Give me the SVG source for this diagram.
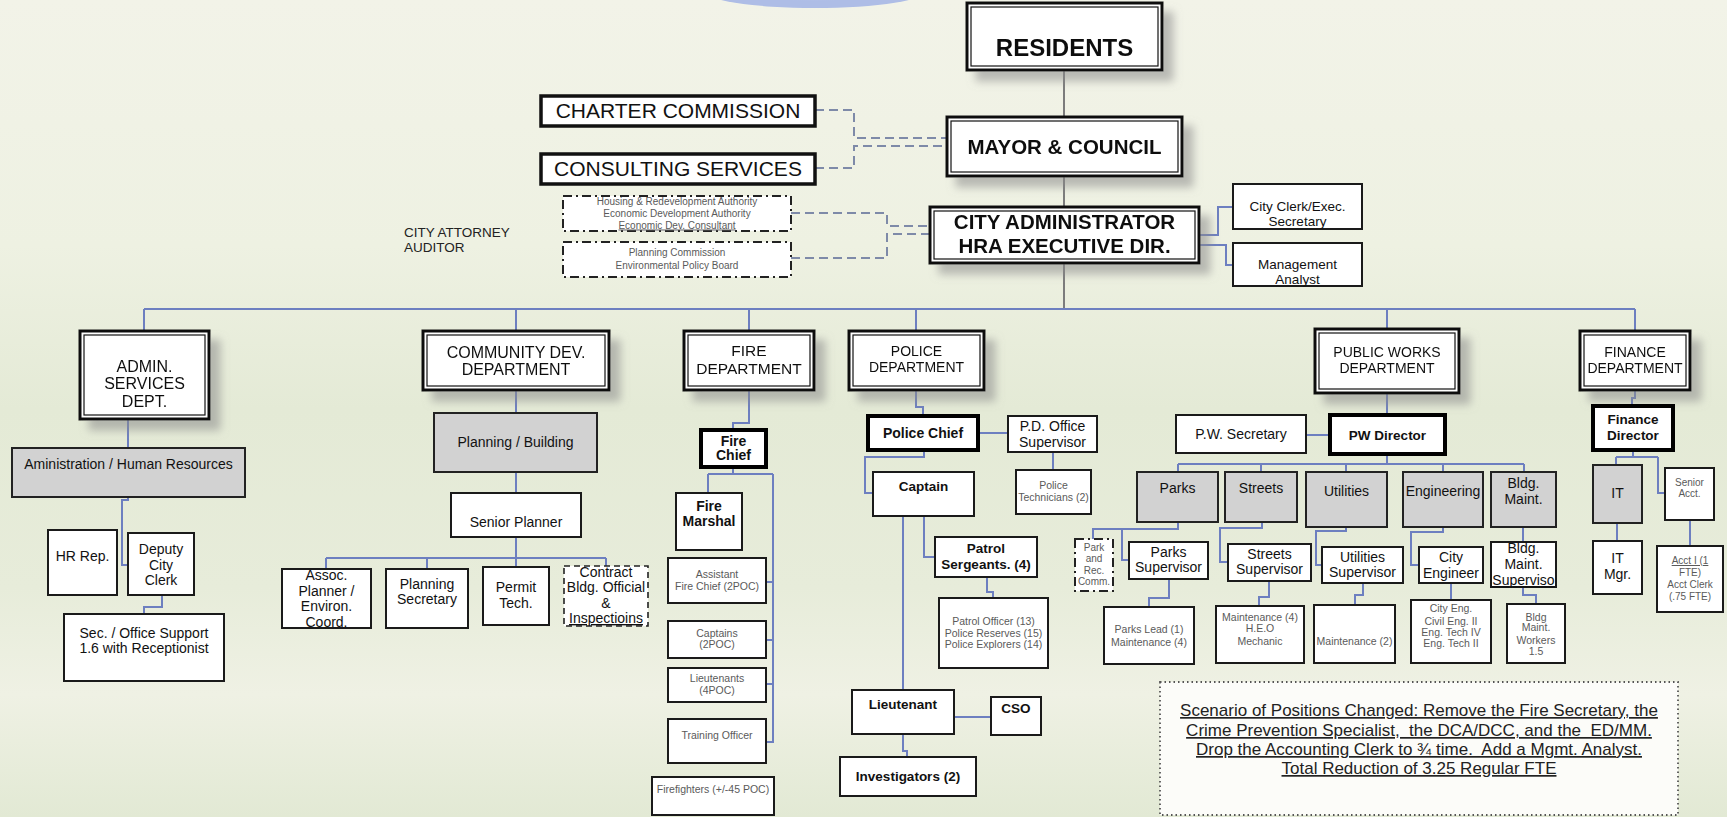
<svg xmlns="http://www.w3.org/2000/svg" width="1727" height="817" viewBox="0 0 1727 817">
<defs>
<linearGradient id="bg" x1="0" y1="0" x2="0" y2="1">
<stop offset="0" stop-color="#f2f3e8"/>
<stop offset="0.3" stop-color="#eef1e2"/>
<stop offset="0.5" stop-color="#e4ead6"/>
<stop offset="0.72" stop-color="#e7ecda"/>
<stop offset="0.85" stop-color="#eff1e4"/>
<stop offset="1" stop-color="#e2e9d4"/>
</linearGradient>
<radialGradient id="ell" cx="0.5" cy="0.2" r="0.6">
<stop offset="0" stop-color="#ffffff"/>
<stop offset="1" stop-color="#aebde6"/>
</radialGradient>
<filter id="sh" x="-20%" y="-20%" width="150%" height="170%">
<feDropShadow dx="10" dy="10" stdDeviation="4" flood-color="#8a8a8a" flood-opacity="0.55"/>
</filter>
</defs>
<style>
text{font-family:"Liberation Sans",Arial,Helvetica,sans-serif;text-anchor:middle;fill:#111}
.do{fill:#fff;stroke:#111;stroke-width:3}
.di{fill:none;stroke:#111;stroke-width:1.2}
.bx{fill:#fff;stroke:#1a1a1a;stroke-width:2}
.gy{fill:#d2d2d2;stroke:#222;stroke-width:2}
.bd{fill:#fff;stroke:#000;stroke-width:4}
.th{fill:#fff;stroke:#111;stroke-width:3.5}
.dd{fill:#fff;stroke:#222;stroke-width:2;stroke-dasharray:9 4 2 4}
.ds{fill:#fff;stroke:#222;stroke-width:1.6;stroke-dasharray:6 4}
.dt{fill:#fcfcf9;stroke:#555;stroke-width:1.8;stroke-dasharray:1.5 3}
.ln{fill:none;stroke:#6d7fc0;stroke-width:2}
.lg{fill:none;stroke:#7c7c7c;stroke-width:2}
.dl{fill:none;stroke:#7e8aa8;stroke-width:2;stroke-dasharray:9 5}
.f24{font-size:24px;font-weight:bold}
.f21b{font-size:20.5px;font-weight:bold}
.f21{font-size:21px}
.f16{font-size:16px}
.f155{font-size:15.5px}
.f14{font-size:14px}
.f14b{font-size:14px;font-weight:bold}
.f135{font-size:13.5px}
.f135b{font-size:13.5px;font-weight:bold}
.sm{font-size:10.5px;fill:#5a5a5a}
.xs{font-size:10px;fill:#5a5a5a}
.u{text-decoration:underline}
.note{font-size:17px;fill:#222;text-decoration:underline;white-space:pre}
.lbl{font-size:13.5px;text-anchor:start;fill:#222}
</style>
<rect x="0" y="0" width="1727" height="817" fill="url(#bg)"/>
<ellipse cx="815" cy="-10" rx="113" ry="18" fill="url(#ell)"/>

<g id="connectors">
<path class="lg" d="M1064 70V117M1064 176V207M1064 263V309"/>
<path class="dl" d="M815 110H854V138H947M815 168H854V146H947"/>
<path class="dl" d="M791 213H887V226H930M791 258H887V234H930"/>
<path class="ln" d="M1199 235H1218V207H1233M1199 245H1226V265H1233"/>
<path class="ln" d="M144 309H1635M144 309V331M516 309V331M749 309V331M916 309V331M1387 309V328M1635 309V331"/>
<path class="ln" d="M128 419V448M128 497V500H122V565H128M162 595V607H144V614"/>
<path class="ln" d="M516 390V413M516 472V493M516 537V558M326 558H606M326 558V569M427 558V569M516 558V567M606 558V566"/>
<path class="ln" d="M749 390V423H733V430M733 467V474M708 474H773M708 474V493M773 474V742H766M773 582H766M773 640H766M773 684H766"/>
<path class="ln" d="M916 390V407H923V416M978 433H1008M1053 452V470M924 450V457H865V493H873M924 516V557H935M987 577V592H993V598M903 516V690M954 717H991M903 734V751H907V757"/>
<path class="ln" d="M1387 393V415M1306 435H1330M1387 454V464M1178 464H1524M1178 464V472M1261 464V472M1346 464V472M1443 464V472M1524 464V472"/>
<path class="ln" d="M1178 522V529H1093V539M1122 529V560H1129M1169 579V598H1149V607"/>
<path class="ln" d="M1262 522V528H1220V562H1228M1269 581V597H1259V606"/>
<path class="ln" d="M1346 527V531H1316V565H1322M1363 583V595H1355V605"/>
<path class="ln" d="M1443 527V532H1411V565H1419M1451 583V600"/>
<path class="ln" d="M1523 527V542M1523 587V595H1536V604"/>
<path class="ln" d="M1635 390V398H1632V406M1633 450V457M1616 457H1658M1616 457V465M1658 457V493H1665M1617 523V541M1690 520V546"/>
</g>

<g id="residents" filter="url(#sh)"><rect class="do" x="967" y="3" width="195" height="67"/><rect class="di" x="971" y="7" width="187" height="59"/><text class="f24" x="1064.5" y="56">RESIDENTS</text></g>
<g id="mayor" filter="url(#sh)"><rect class="do" x="947" y="117" width="235" height="59"/><rect class="di" x="951" y="121" width="227" height="51"/><text class="f21b" x="1064.5" y="154">MAYOR &amp; COUNCIL</text></g>
<g id="cityadmin" filter="url(#sh)"><rect class="do" x="930" y="207" width="269" height="56"/><rect class="di" x="934" y="211" width="261" height="48"/><text class="f21b" x="1064.5" y="229">CITY ADMINISTRATOR</text><text class="f21b" x="1064.5" y="253">HRA EXECUTIVE DIR.</text></g>
<g id="charter"><rect class="th" x="541" y="96" width="274" height="30"/><text class="f21" x="678" y="118">CHARTER COMMISSION</text></g>
<g id="consulting"><rect class="th" x="541" y="154" width="274" height="30"/><text class="f21" x="678" y="176">CONSULTING SERVICES</text></g>
<g id="hra"><rect class="dd" x="563" y="196" width="228" height="35"/><text class="xs" x="677" y="204.5">Housing &amp; Redevelopment Authority</text><text class="xs" x="677" y="216.5">Economic Development Authority</text><text class="xs u" x="677" y="228.5">Economic Dev. Consultant</text></g>
<g id="planningcomm"><rect class="dd" x="563" y="242" width="228" height="35"/><text class="xs" x="677" y="256">Planning Commission</text><text class="xs" x="677" y="269">Environmental Policy Board</text></g>
<g id="attorney"><text class="lbl" x="404" y="237">CITY ATTORNEY</text><text class="lbl" x="404" y="252">AUDITOR</text></g>
<g id="cityclerk"><rect class="bx" x="1233" y="184" width="129" height="45"/><text class="f135" x="1297.5" y="211">City Clerk/Exec.</text><text class="f135" x="1297.5" y="226">Secretary</text></g>
<g id="mgmtanalyst"><rect class="bx" x="1233" y="243" width="129" height="43"/><text class="f135" x="1297.5" y="269">Management</text><text class="f135" x="1297.5" y="284">Analyst</text></g>

<g id="admin" filter="url(#sh)"><rect class="do" x="80" y="331" width="129" height="88"/><rect class="di" x="84" y="335" width="121" height="80"/><text class="f16" x="144.5" y="372">ADMIN.</text><text class="f16" x="144.5" y="389">SERVICES</text><text class="f16" x="144.5" y="407">DEPT.</text></g>
<g id="commdev" filter="url(#sh)"><rect class="do" x="423" y="331" width="186" height="59"/><rect class="di" x="427" y="335" width="178" height="51"/><text class="f16" x="516" y="358">COMMUNITY DEV.</text><text class="f16" x="516" y="375">DEPARTMENT</text></g>
<g id="fire" filter="url(#sh)"><rect class="do" x="684" y="331" width="130" height="59"/><rect class="di" x="688" y="335" width="122" height="51"/><text class="f155" x="749" y="356">FIRE</text><text class="f155" x="749" y="374">DEPARTMENT</text></g>
<g id="police" filter="url(#sh)"><rect class="do" x="849" y="331" width="135" height="59"/><rect class="di" x="853" y="335" width="127" height="51"/><text class="f14" x="916.5" y="356">POLICE</text><text class="f14" x="916.5" y="372">DEPARTMENT</text></g>
<g id="publicworks" filter="url(#sh)"><rect class="do" x="1315" y="329" width="144" height="64"/><rect class="di" x="1319" y="333" width="136" height="56"/><text class="f14" x="1387" y="357">PUBLIC WORKS</text><text class="f14" x="1387" y="373">DEPARTMENT</text></g>
<g id="finance" filter="url(#sh)"><rect class="do" x="1580" y="331" width="110" height="59"/><rect class="di" x="1584" y="335" width="102" height="51"/><text class="f14" x="1635" y="357">FINANCE</text><text class="f14" x="1635" y="373">DEPARTMENT</text></g>

<g id="adminhr"><rect class="gy" x="12" y="448" width="233" height="49"/><text class="f14" x="128.5" y="469">Aministration / Human Resources</text></g>
<g id="hrrep"><rect class="bx" x="48" y="530" width="69" height="65"/><text class="f14" x="82.5" y="561">HR Rep.</text></g>
<g id="deputy"><rect class="bx" x="128" y="533" width="66" height="62"/><text class="f14" x="161" y="554">Deputy</text><text class="f14" x="161" y="570">City</text><text class="f14" x="161" y="585">Clerk</text></g>
<g id="secoffice"><rect class="bx" x="64" y="614" width="160" height="67"/><text class="f14" x="144" y="638">Sec. / Office Support</text><text class="f14" x="144" y="653">1.6 with Receptionist</text></g>

<g id="planbldg"><rect class="gy" x="434" y="413" width="163" height="59"/><text class="f14" x="515.5" y="447">Planning / Building</text></g>
<g id="seniorplanner"><rect class="bx" x="451" y="493" width="130" height="44"/><text class="f14" x="516" y="527">Senior Planner</text></g>
<g id="assoc"><rect class="bx" x="282" y="569" width="89" height="59"/><text class="f14" x="326.5" y="580">Assoc.</text><text class="f14" x="326.5" y="596">Planner /</text><text class="f14" x="326.5" y="611">Environ.</text><text class="f14" x="326.5" y="627">Coord.</text></g>
<g id="plansec"><rect class="bx" x="386" y="569" width="82" height="59"/><text class="f14" x="427" y="589">Planning</text><text class="f14" x="427" y="604">Secretary</text></g>
<g id="permit"><rect class="bx" x="483" y="567" width="66" height="58"/><text class="f14" x="516" y="592">Permit</text><text class="f14" x="516" y="608">Tech.</text></g>
<g id="contract"><rect class="ds" x="564" y="566" width="84" height="60"/><text class="f14" x="606" y="577">Contract</text><text class="f14" x="606" y="592">Bldg. Official</text><text class="f14" x="606" y="608">&amp;</text><text class="f14 u" x="606" y="623">Inspectioins</text></g>

<g id="firechief"><rect class="bd" x="701" y="430" width="65" height="37"/><text class="f14b" x="733.5" y="446">Fire</text><text class="f14b" x="733.5" y="460">Chief</text></g>
<g id="firemarshal"><rect class="bx" x="676" y="493" width="66" height="57"/><text class="f14b" x="709" y="511">Fire</text><text class="f14b" x="709" y="526">Marshal</text></g>
<g id="asstchief"><rect class="bx" x="668" y="558" width="98" height="45"/><text class="sm" x="717" y="578">Assistant</text><text class="sm" x="717" y="590">Fire Chief (2POC)</text></g>
<g id="captains"><rect class="bx" x="668" y="621" width="98" height="37"/><text class="sm" x="717" y="637">Captains</text><text class="sm" x="717" y="648">(2POC)</text></g>
<g id="lieutenants"><rect class="bx" x="668" y="668" width="98" height="34"/><text class="sm" x="717" y="682">Lieutenants</text><text class="sm" x="717" y="694">(4POC)</text></g>
<g id="training"><rect class="bx" x="668" y="719" width="98" height="44"/><text class="sm" x="717" y="739">Training Officer</text></g>
<g id="firefighters"><rect class="bx" x="652" y="777" width="122" height="38"/><text class="sm" x="713" y="793">Firefighters (+/-45 POC)</text></g>

<g id="policechief"><rect class="bd" x="868" y="416" width="110" height="34"/><text class="f14b" x="923" y="438">Police Chief</text></g>
<g id="pdoffice"><rect class="bx" x="1008" y="416" width="89" height="36"/><text class="f14" x="1052.5" y="431">P.D. Office</text><text class="f14" x="1052.5" y="447">Supervisor</text></g>
<g id="policetech"><rect class="bx" x="1016" y="470" width="75" height="44"/><text class="sm" x="1053.5" y="489">Police</text><text class="sm" x="1053.5" y="501">Technicians (2)</text></g>
<g id="captain"><rect class="bx" x="873" y="472" width="101" height="44"/><text class="f135b" x="923.5" y="491">Captain</text></g>
<g id="sergeants"><rect class="bx" x="935" y="537" width="102" height="40"/><text class="f135b" x="986" y="553">Patrol</text><text class="f135b" x="986" y="569">Sergeants. (4)</text></g>
<g id="patrolofficers"><rect class="bx" x="939" y="598" width="109" height="70"/><text class="sm" x="993.5" y="625">Patrol Officer (13)</text><text class="sm" x="993.5" y="637">Police Reserves (15)</text><text class="sm" x="993.5" y="648">Police Explorers (14)</text></g>
<g id="lieutenant"><rect class="bx" x="852" y="690" width="102" height="44"/><text class="f135b" x="903" y="709">Lieutenant</text></g>
<g id="cso"><rect class="bx" x="991" y="697" width="50" height="38"/><text class="f135b" x="1016" y="713">CSO</text></g>
<g id="investigators"><rect class="bx" x="840" y="757" width="136" height="39"/><text class="f135b" x="908" y="781">Investigators (2)</text></g>

<g id="pwsecretary"><rect class="bx" x="1176" y="415" width="130" height="38"/><text class="f14" x="1241" y="439">P.W. Secretary</text></g>
<g id="pwdirector"><rect class="bd" x="1330" y="415" width="115" height="39"/><text class="f135b" x="1387.5" y="440">PW Director</text></g>
<g id="parks"><rect class="gy" x="1137" y="472" width="81" height="50"/><text class="f14" x="1177.5" y="493">Parks</text></g>
<g id="streets"><rect class="gy" x="1225" y="472" width="72" height="50"/><text class="f14" x="1261" y="493">Streets</text></g>
<g id="utilities"><rect class="gy" x="1306" y="472" width="81" height="55"/><text class="f14" x="1346.5" y="496">Utilities</text></g>
<g id="engineering"><rect class="gy" x="1403" y="472" width="80" height="55"/><text class="f14" x="1443" y="496">Engineering</text></g>
<g id="bldgmaint"><rect class="gy" x="1491" y="472" width="65" height="55"/><text class="f14" x="1523.5" y="488">Bldg.</text><text class="f14" x="1523.5" y="504">Maint.</text></g>
<g id="parkrec"><rect class="dd" x="1075" y="539" width="38" height="52"/><text class="xs" x="1094" y="551">Park</text><text class="xs" x="1094" y="562">and</text><text class="xs" x="1094" y="574">Rec.</text><text class="xs" x="1094" y="585">Comm.</text></g>
<g id="parkssup"><rect class="bx" x="1129" y="542" width="79" height="37"/><text class="f14" x="1168.5" y="557">Parks</text><text class="f14" x="1168.5" y="572">Supervisor</text></g>
<g id="streetssup"><rect class="bx" x="1228" y="544" width="83" height="37"/><text class="f14" x="1269.5" y="559">Streets</text><text class="f14" x="1269.5" y="574">Supervisor</text></g>
<g id="utilsup"><rect class="bx" x="1322" y="547" width="81" height="36"/><text class="f14" x="1362.5" y="562">Utilities</text><text class="f14" x="1362.5" y="577">Supervisor</text></g>
<g id="cityengineer"><rect class="bx" x="1419" y="547" width="64" height="36"/><text class="f14" x="1451" y="562">City</text><text class="f14" x="1451" y="578">Engineer</text></g>
<g id="bmsup"><rect class="bx" x="1491" y="542" width="65" height="45"/><text class="f14" x="1523.5" y="553">Bldg.</text><text class="f14" x="1523.5" y="569">Maint.</text><text class="f14 u" x="1523.5" y="585">Superviso</text></g>
<g id="parkslead"><rect class="bx" x="1104" y="607" width="90" height="57"/><text class="sm" x="1149" y="633">Parks Lead (1)</text><text class="sm" x="1149" y="646">Maintenance (4)</text></g>
<g id="streetsmaint"><rect class="bx" x="1216" y="606" width="88" height="57"/><text class="sm" x="1260" y="621">Maintenance (4)</text><text class="sm" x="1260" y="632">H.E.O</text><text class="sm" x="1260" y="645">Mechanic</text></g>
<g id="utilmaint"><rect class="bx" x="1314" y="605" width="81" height="58"/><text class="sm" x="1354.5" y="645">Maintenance (2)</text></g>
<g id="engstaff"><rect class="bx" x="1411" y="600" width="80" height="63"/><text class="sm" x="1451" y="612">City Eng.</text><text class="sm" x="1451" y="625">Civil Eng. II</text><text class="sm" x="1451" y="636">Eng. Tech IV</text><text class="sm" x="1451" y="647">Eng. Tech II</text></g>
<g id="bmworkers"><rect class="bx" x="1507" y="604" width="58" height="59"/><text class="sm" x="1536" y="621">Bldg</text><text class="sm" x="1536" y="631">Maint.</text><text class="sm" x="1536" y="644">Workers</text><text class="sm" x="1536" y="655">1.5</text></g>

<g id="findirector"><rect class="bd" x="1593" y="406" width="80" height="44"/><text class="f135b" x="1633" y="424">Finance</text><text class="f135b" x="1633" y="440">Director</text></g>
<g id="it"><rect class="gy" x="1593" y="465" width="49" height="58"/><text class="f14" x="1617.5" y="498">IT</text></g>
<g id="senioracct"><rect class="bx" x="1665" y="468" width="49" height="52"/><text class="xs" x="1689.5" y="486">Senior</text><text class="xs" x="1689.5" y="497">Acct.</text></g>
<g id="itmgr"><rect class="bx" x="1593" y="541" width="49" height="53"/><text class="f14" x="1617.5" y="563">IT</text><text class="f14" x="1617.5" y="579">Mgr.</text></g>
<g id="acct"><rect class="bx" x="1657" y="546" width="66" height="66"/><text class="xs u" x="1690" y="564">Acct I (1</text><text class="xs" x="1690" y="576">FTE)</text><text class="xs" x="1690" y="588">Acct Clerk</text><text class="xs" x="1690" y="600">(.75 FTE)</text></g>

<g id="scenario"><rect class="dt" x="1160" y="682" width="518" height="133"/><text class="note" x="1419" y="716">Scenario of Positions Changed: Remove the Fire Secretary, the</text><text class="note" x="1419" y="736">Crime Prevention Specialist,  the DCA/DCC, and the  ED/MM.</text><text class="note" x="1419" y="755">Drop the Accounting Clerk to ¾ time.  Add a Mgmt. Analyst.</text><text class="note" x="1419" y="774">Total Reduction of 3.25 Regular FTE</text></g>
</svg>
